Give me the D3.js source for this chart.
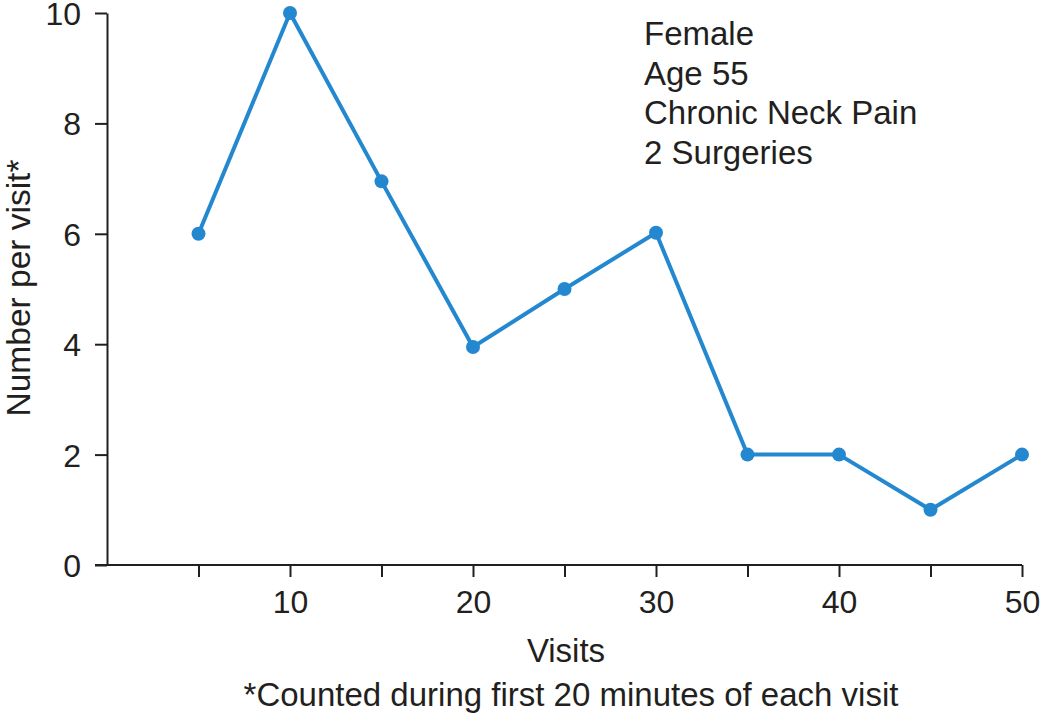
<!DOCTYPE html>
<html><head><meta charset="utf-8">
<script src="https://cdn.jsdelivr.net/npm/d3@7"></script>
<style>html,body{margin:0;padding:0;background:#fff;}svg{display:block;font-family:"Liberation Sans",Arial,Helvetica,sans-serif;}</style>
</head><body>
<svg id="c" width="1042" height="719"></svg>
<script>
const visits = [5, 10, 15, 20, 25, 30, 35, 40, 45, 50];
const counts = [6, 10, 6.95, 3.95, 5, 6.02, 2, 2, 1, 2];
const xTicks = [5, 10, 15, 20, 25, 30, 35, 40, 45, 50];
const xTickLabels = ["", "10", "", "20", "", "30", "", "40", "", "50"];
const yTicks = [0, 2, 4, 6, 8, 10];
const notes = ["Female", "Age 55", "Chronic Neck Pain", "2 Surgeries"];
const xTitle = "Visits";
const yTitle = "Number per visit*";
const footnote = "*Counted during first 20 minutes of each visit";

const ink = "#231f20";
const blue = "#2388cf";
const svg = d3.select("#c");
const x = d3.scaleLinear().domain([0, 50]).range([107, 1022]);
const y = d3.scaleLinear().domain([0, 10]).range([565, 13]);

// y axis
const yAx = svg.append("g").attr("transform", "translate(107,0)")
  .call(d3.axisLeft(y).tickValues(yTicks).tickSize(12).tickPadding(14).tickSizeOuter(0));
yAx.select(".domain").attr("stroke", ink).attr("stroke-width", 2);
yAx.selectAll(".tick line").attr("stroke", ink).attr("stroke-width", 2);
yAx.selectAll(".tick text").attr("fill", ink).style("font-size", "32px")
  .style("font-family", "Liberation Sans, Arial, sans-serif").attr("dy", "0.36em");

// x axis
const xAx = svg.append("g").attr("transform", "translate(0,565)")
  .call(d3.axisBottom(x).tickValues(xTicks).tickFormat((d, i) => xTickLabels[i]).tickSize(12).tickPadding(13).tickSizeOuter(0));
xAx.select(".domain").attr("stroke", ink).attr("stroke-width", 2).attr("d", `M95,0H${x(50)}`);
xAx.selectAll(".tick line").attr("stroke", ink).attr("stroke-width", 2);
xAx.selectAll(".tick text").attr("fill", ink).style("font-size", "32px")
  .style("font-family", "Liberation Sans, Arial, sans-serif");

// line
const data = visits.map((v, i) => ({v, c: counts[i]}));
svg.append("path").datum(data)
  .attr("fill", "none").attr("stroke", blue).attr("stroke-width", 4).attr("stroke-linejoin", "round")
  .attr("d", d3.line().x(d => x(d.v)).y(d => y(d.c)));
svg.append("g").selectAll("circle").data(data).join("circle")
  .attr("cx", d => x(d.v)).attr("cy", d => y(d.c)).attr("r", 7).attr("fill", blue);

// annotation
svg.append("g").selectAll("text").data(notes).join("text")
  .attr("x", 644).attr("y", (d, i) => 45 + i * 39.5)
  .attr("fill", ink).style("font-size", "33px").text(d => d);

// titles
svg.append("text").attr("x", 566).attr("y", 662).attr("text-anchor", "middle")
  .attr("fill", ink).style("font-size", "33px").text(xTitle);
svg.append("text").attr("x", 571).attr("y", 706).attr("text-anchor", "middle")
  .attr("fill", ink).style("font-size", "33px").text(footnote);
svg.append("text").attr("transform", "translate(30,288) rotate(-90)").attr("text-anchor", "middle")
  .attr("fill", ink).style("font-size", "33.5px").text(yTitle);
</script>
</body></html>
